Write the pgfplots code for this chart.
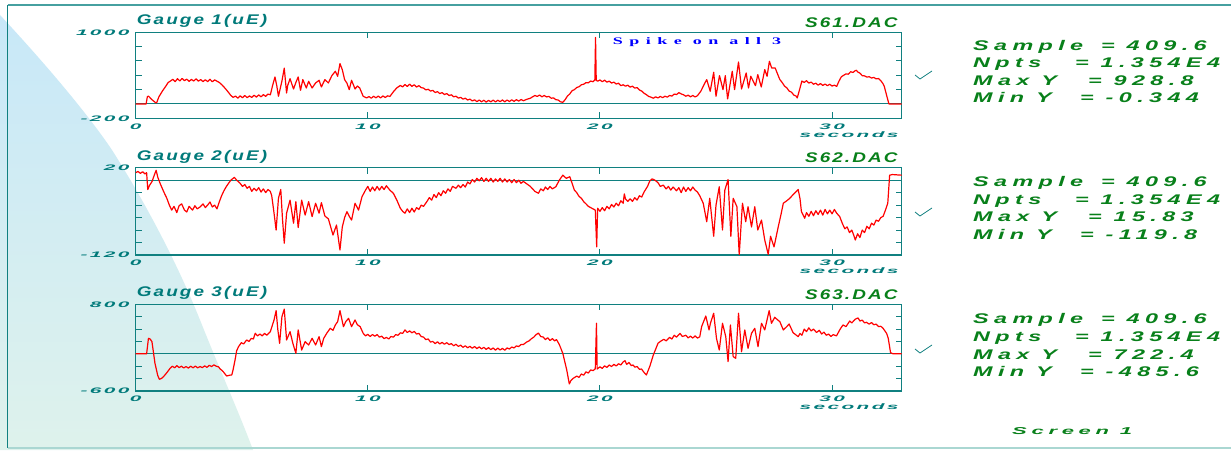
\documentclass[border=0pt]{standalone}
\usepackage{pgfplots}
\pgfplotsset{compat=1.18}
\usepackage{pgfplotstable}
\usepackage{graphicx}
\usepackage{fontspec}
\setmainfont{Liberation Sans}
\newfontfamily\tickfont{Liberation Sans Bold Italic}[FakeStretch=2.6, LetterSpace=30]
\newfontfamily\titlefont{Liberation Sans Bold Italic}[FakeStretch=1.35, LetterSpace=15]
\newfontfamily\infofont{Liberation Sans Bold Italic}[LetterSpace=23]
\newfontfamily\screenfont{Liberation Sans Bold Italic}[FakeStretch=2.2, LetterSpace=47]
\newfontfamily\notefont{Liberation Serif Bold}[LetterSpace=36]

\definecolor{axteal}{RGB}{16,128,128}
\definecolor{txteal}{RGB}{0,122,122}
\definecolor{txgreen}{RGB}{8,128,26}
\definecolor{frametop}{RGB}{70,160,160}
\definecolor{framebot}{RGB}{170,215,210}
\definecolor{bgtop}{RGB}{200,232,248}
\definecolor{bgbot}{RGB}{222,242,236}

% strain records, time in seconds
\pgfplotstableread{
t y
0 0
0.45 0
0.5 100
0.55 110
0.7 60
0.85 20
0.9 15
1.0 100
1.15 180
1.3 250
1.4 300
1.5 320
1.6 345
1.7 312
1.8 352
1.9 322
2.0 356
2.1 326
2.2 346
2.3 316
2.4 342
2.5 320
2.6 350
2.7 318
2.8 340
2.9 312
3.0 338
3.1 312
3.2 344
3.3 310
3.4 336
3.5 318
3.6 300
3.7 272
3.8 238
3.9 200
4.0 160
4.1 118
4.2 92
4.3 110
4.4 82
4.5 114
4.6 86
4.7 118
4.8 88
4.9 112
5.0 92
5.1 122
5.2 96
5.3 126
5.4 100
5.5 130
5.6 106
5.7 138
5.8 128
5.9 260
6.0 377
6.08 250
6.15 107
6.3 320
6.4 500
6.5 153
6.55 260
6.65 353
6.8 209
6.9 300
7.0 377
7.1 190
7.2 340
7.35 223
7.45 316
7.6 223
7.75 293
7.9 330
8.0 237
8.15 340
8.3 293
8.45 395
8.6 456
8.7 386
8.8 563
8.9 479
9.0 340
9.1 290
9.2 200
9.3 330
9.45 209
9.55 250
9.65 223
9.8 107
9.95 84
10.05 104
10.15 80
10.25 108
10.35 86
10.45 110
10.55 84
10.65 112
10.75 90
10.85 114
10.95 105
11.1 170
11.25 225
11.4 258
11.5 238
11.6 272
11.7 244
11.8 276
11.9 246
12.0 268
12.1 236
12.2 256
12.3 228
12.4 222
12.5 196
12.6 205
12.7 180
12.8 190
12.9 160
13.0 172
13.1 145
13.2 158
13.3 132
13.4 145
13.5 118
13.6 128
13.7 100
13.8 108
13.9 82
14.0 92
14.1 68
14.2 80
14.3 55
14.4 68
14.5 42
14.6 58
14.7 32
14.8 55
14.9 30
15.0 52
15.1 26
15.2 50
15.3 30
15.4 54
15.5 28
15.6 52
15.7 32
15.8 56
15.9 30
16.0 55
16.1 34
16.2 58
16.3 36
16.4 60
16.5 40
16.6 62
16.7 45
16.85 65
17.0 80
17.1 100
17.2 118
17.3 105
17.4 125
17.5 100
17.6 118
17.7 98
17.8 106
17.9 80
18.0 85
18.1 60
18.2 55
18.3 30
18.4 23
18.5 60
18.6 110
18.7 140
18.8 185
18.9 200
19.0 230
19.1 240
19.2 268
19.3 275
19.4 298
19.5 295
19.6 320
19.7 310
19.78 335
19.81 928.8
19.84 330
19.9 318
20.0 335
20.1 310
20.2 332
20.3 305
20.4 318
20.5 292
20.6 305
20.7 278
20.8 290
20.9 255
21.0 268
21.1 248
21.2 262
21.3 235
21.4 248
21.5 222
21.6 228
21.7 195
21.8 180
21.9 150
22.0 130
22.1 105
22.2 95
22.3 80
22.4 100
22.5 84
22.6 105
22.7 88
22.8 108
22.9 95
23.0 118
23.1 110
23.2 138
23.3 132
23.4 158
23.5 140
23.6 128
23.7 108
23.8 122
23.9 100
24.0 118
24.1 98
24.2 115
24.35 180
24.5 280
24.6 340
24.75 177
24.9 442
25.0 107
25.15 395
25.3 200
25.4 395
25.5 70
25.7 456
25.8 200
25.97 586
26.1 209
26.3 432
26.4 223
26.5 386
26.7 256
26.8 409
26.95 237
27.1 479
27.2 386
27.3 595
27.4 502
27.55 502
27.65 420
27.75 340
27.85 300
27.95 250
28.05 225
28.15 180
28.25 165
28.35 125
28.45 110
28.5 84
28.6 200
28.7 320
28.8 300
28.9 325
29.0 292
29.1 305
29.2 275
29.3 290
29.4 262
29.5 285
29.6 258
29.7 278
29.8 255
29.9 275
30.0 250
30.1 262
30.2 246
30.3 320
30.4 380
30.5 400
30.6 420
30.7 415
30.8 450
30.9 440
31.0 465
31.05 470
31.1 448
31.2 430
31.3 395
31.4 392
31.5 375
31.6 380
31.7 362
31.8 370
31.9 350
32.0 355
32.1 325
32.2 280
32.25 246
32.35 120
32.45 0
33 0
}\gaugeone

\pgfplotstableread{
t y
0 12
0.1 14
0.2 11
0.3 13.5
0.4 10
0.47 12
0.52 -15
0.6 -8
0.7 -2.5
0.8 8
0.88 15.8
0.95 5
1.05 -5
1.2 -18
1.34 -29
1.45 -40
1.55 -48
1.65 -42
1.77 -52
1.87 -41
1.98 -38
2.1 -48
2.2 -51
2.3 -42
2.45 -48
2.55 -41
2.65 -46
2.77 -43
2.9 -38
3.0 -44
3.1 -40
3.2 -35
3.3 -43
3.4 -40
3.5 -46
3.6 -35
3.7 -25
3.8 -17
3.9 -10.5
4.0 -5
4.1 0
4.25 4.5
4.35 0
4.5 -5
4.6 -10
4.7 -7
4.8 -13
4.9 -10
5.0 -18
5.1 -13
5.2 -17
5.3 -12
5.4 -19
5.5 -14
5.6 -20
5.7 -15
5.8 -18
5.86 -25
5.95 -50
6.05 -80
6.15 -29
6.25 -15
6.32 -60
6.4 -101
6.5 -53
6.65 -32
6.8 -69
6.9 -34.5
7.0 -76
7.15 -32
7.3 -56
7.45 -34.5
7.6 -58.5
7.75 -37
7.9 -53
8.0 -36
8.15 -57.5
8.3 -62
8.4 -75
8.5 -88
8.65 -72
8.8 -112
8.9 -75
9.0 -60
9.1 -50.5
9.2 -58
9.3 -64
9.45 -37
9.6 -48
9.75 -26.5
9.9 -16
10.0 -10
10.1 -18
10.2 -11
10.3 -17
10.4 -10
10.5 -16
10.6 -10
10.7 -15
10.8 -9
10.95 -16
11.1 -21
11.25 -32
11.4 -45
11.5 -50
11.6 -53
11.7 -46
11.8 -52
11.9 -45
12.0 -51
12.1 -44
12.2 -47
12.3 -40
12.4 -42
12.55 -34
12.65 -28
12.75 -32
12.85 -23
12.95 -28
13.05 -20
13.15 -25
13.25 -17
13.35 -21
13.45 -14
13.55 -18
13.65 -10
13.8 -13
13.9 -8
14.0 -12
14.1 -7
14.2 -11
14.3 -3
14.4 -6
14.5 1
14.6 -3
14.7 3
14.8 -1
14.9 4
15.0 -2
15.1 3
15.2 -2
15.3 3
15.4 -3
15.5 2
15.6 -2
15.7 3
15.8 -3
15.9 2
16.0 -3
16.1 1
16.2 -4
16.3 1
16.4 -4
16.5 0
16.6 -5
16.7 -2
16.85 -6
17.0 -10
17.2 -18
17.35 -21
17.45 -14
17.56 -17
17.65 -11
17.75 -15
17.85 -10
17.95 -14
18.1 -10.5
18.25 0
18.4 8
18.55 3
18.7 5.5
18.8 -5
18.9 -16
19.0 -20
19.1 -26
19.2 -29
19.3 -34.5
19.4 -38
19.5 -42
19.65 -45
19.8 -48
19.86 -107
19.9 -45
20.0 -50
20.1 -44
20.2 -49
20.3 -42
20.4 -46
20.5 -39
20.6 -43
20.7 -37
20.8 -41
20.9 -33
21.0 -37
21.05 -22
21.1 -30
21.2 -34
21.3 -30
21.4 -34
21.5 -28
21.6 -32
21.7 -25
21.8 -27
21.9 -19
22.05 -10
22.15 -1
22.25 2
22.37 0
22.5 -4
22.6 -10
22.73 -8
22.85 -14
22.95 -10
23.05 -16
23.15 -11
23.3 -17
23.4 -12
23.5 -20
23.6 -11
23.7 -18
23.8 -12
23.9 -17
24.0 -11
24.1 -16
24.2 -19
24.3 -25
24.45 -37
24.6 -66.6
24.73 -29
24.9 -90
25.0 -40
25.14 -10.5
25.28 -80
25.38 -16
25.52 1
25.64 -90
25.74 -29
25.9 -42.5
26.0 -119.8
26.14 -37
26.28 -66.6
26.38 -42.5
26.53 -75
26.67 -42.5
26.8 -80
26.96 -64
27.1 -96
27.25 -119
27.35 -90
27.5 -107
27.68 -75
27.8 -55
27.9 -37
28.05 -33
28.18 -29
28.35 -22
28.54 -15
28.62 -30
28.68 -50.5
28.82 -61
28.9 -52
29.0 -58
29.1 -50
29.2 -57
29.3 -49
29.4 -55
29.5 -48
29.6 -56
29.7 -47
29.8 -54
29.9 -48
30.0 -54
30.1 -47
30.2 -53
30.33 -58.5
30.45 -70
30.55 -78
30.65 -75
30.75 -84
30.85 -80
30.95 -90
31.0 -96
31.1 -86
31.2 -92
31.3 -80
31.4 -84
31.5 -74
31.6 -78
31.7 -69
31.8 -72
31.9 -64
32.0 -66
32.1 -60
32.2 -58
32.3 -48
32.4 -37
32.48 8
32.6 9
33 8
}\gaugetwo

\pgfplotstableread{
t y
0 0
0.47 0
0.55 251
0.62 240
0.7 197
0.83 -153
0.95 -350
1.02 -411
1.1 -400
1.2 -368
1.35 -300
1.48 -234
1.58 -200
1.68 -225
1.77 -190
1.87 -222
1.97 -200
2.07 -228
2.17 -205
2.27 -230
2.37 -200
2.47 -225
2.57 -198
2.67 -226
2.77 -205
2.87 -222
2.97 -195
3.07 -218
3.17 -185
3.27 -205
3.37 -178
3.47 -200
3.57 -210
3.63 -240
3.75 -280
3.92 -358
4.05 -345
4.14 -341
4.2 -250
4.28 -99
4.35 50
4.43 116
4.55 180
4.65 160
4.78 224
4.88 200
4.98 250
5.07 240
5.15 332
5.25 290
5.35 320
5.45 290
5.55 330
5.65 300
5.8 358
5.96 547
6.05 698
6.12 400
6.2 170
6.3 601
6.4 722.4
6.5 224
6.65 358
6.77 170
6.9 9
7.0 386
7.15 62
7.3 197
7.45 143
7.6 251
7.75 143
7.9 278
8.0 116
8.1 250
8.23 332
8.38 412
8.5 380
8.6 466
8.7 520
8.8 698
8.95 439
9.05 520
9.17 574
9.3 439
9.45 547
9.55 470
9.67 439
9.8 332
9.9 290
10.0 315
10.1 280
10.2 312
10.3 285
10.4 310
10.5 270
10.6 285
10.7 245
10.8 265
10.9 240
11.0 280
11.1 270
11.2 310
11.3 300
11.4 340
11.5 330
11.6 386
11.7 345
11.8 370
11.9 340
12.0 362
12.1 320
12.2 330
12.3 280
12.4 270
12.5 230
12.6 240
12.7 190
12.8 200
12.9 165
13.0 195
13.1 160
13.2 185
13.3 155
13.4 180
13.5 150
13.6 165
13.7 130
13.8 155
13.9 120
14.0 140
14.1 105
14.2 130
14.3 98
14.4 122
14.5 90
14.6 118
14.7 85
14.8 112
14.9 80
15.0 105
15.1 72
15.2 100
15.3 68
15.4 95
15.5 60
15.6 92
15.7 62
15.8 88
15.9 58
16.0 95
16.1 78
16.2 110
16.3 95
16.4 128
16.5 118
16.6 150
16.7 150
16.84 190
16.95 210
17.05 245
17.15 270
17.25 310
17.35 335
17.45 280
17.56 270
17.65 230
17.75 260
17.85 215
17.95 245
18.05 210
18.13 230
18.25 150
18.4 9
18.57 -261
18.68 -485.6
18.75 -430
18.85 -395
19.0 -360
19.1 -380
19.2 -325
19.3 -345
19.4 -290
19.5 -310
19.6 -260
19.71 -270
19.8 -240
19.85 493
19.88 -245
20.0 -210
20.1 -235
20.2 -195
20.3 -220
20.4 -180
20.5 -205
20.6 -170
20.7 -195
20.8 -160
20.9 -180
21.0 -130
21.08 -110
21.15 -170
21.25 -140
21.35 -190
21.43 -180
21.5 -215
21.6 -205
21.7 -250
21.79 -245
21.9 -300
22.0 -341
22.15 -200
22.3 -18
22.5 170
22.6 200
22.75 235
22.85 210
23.0 265
23.1 240
23.2 300
23.3 270
23.45 330
23.55 280
23.7 300
23.8 258
23.9 285
24.0 255
24.1 290
24.2 255
24.3 275
24.38 439
24.56 611
24.7 386
24.76 493
24.9 655
25.02 251
25.14 62
25.28 493
25.42 278
25.52 -126
25.62 466
25.74 -45
25.85 -72
25.97 655
26.1 35
26.24 386
26.38 89
26.53 332
26.67 412
26.81 116
26.96 493
27.1 386
27.29 698
27.39 493
27.53 590
27.65 550
27.75 520
27.9 386
28.05 440
28.15 482
28.32 342
28.54 278
28.62 330
28.7 300
28.8 400
28.9 360
29.0 420
29.1 370
29.2 400
29.33 345
29.45 380
29.55 320
29.65 350
29.75 300
29.85 320
29.95 280
30.05 310
30.19 290
30.35 400
30.47 466
30.6 440
30.76 530
30.85 500
31.0 560
31.12 580
31.2 530
31.3 545
31.4 500
31.48 510
31.6 480
31.7 505
31.8 470
31.9 480
32.0 440
32.1 445
32.2 412
32.35 330
32.42 251
32.52 19
32.63 0
33 0
}\gaugethree

\pgfplotsset{
  gaugeaxis/.style={
    anchor=south west,
    scale only axis,
    clip mode=individual,
    width=766pt,
    xmin=0, xmax=33,
    axis line style={draw=axteal, line width=1.3pt},
    tick style={draw=axteal, line width=1pt},
    tick align=inside,
    major tick length=6pt,
    xtick={0,10,20,30},
    xticklabels={0,10,20,30},
    xticklabel style={anchor=north, inner sep=0pt, yshift=-5pt,
      font=\tickfont\fontsize{8}{8}\selectfont, text=txteal},
    yticklabel style={anchor=east, inner sep=0pt, xshift=-6pt,
      font=\tickfont\fontsize{8}{8}\selectfont, text=txteal},
  },
  trace/.style={red, line width=1.2pt, line join=round},
  zeroline/.style={axteal, line width=1pt},
}

\newcommand{\titletext}[1]{{\titlefont\fontsize{14}{14}\selectfont #1}}
\newcommand{\infotext}[1]{\scalebox{1.67}[1]{\infofont\fontsize{14}{14}\selectfont #1}}

\begin{document}
\begin{tikzpicture}[x=1pt, y=1pt]
  % page background and the pale blue sweep on the left
  \fill[white] (0,0) rectangle (1231,450);
  \shade[top color=bgtop, bottom color=bgbot]
    (0,435) .. controls (40,392) and (85,340) .. (112,300)
    .. controls (150,240) and (180,180) .. (200,130)
    .. controls (222,75) and (240,35) .. (253,0)
    -- (0,0) -- cycle;
  % frame
  \draw[frametop, line width=1.5pt] (7.5,445) -- (1231,445);
  \draw[axteal, line width=1.5pt] (7.5,445) -- (7.5,2);
  \draw[framebot, line width=1.5pt] (7.5,2) -- (1231,2);

  % ---------- Gauge 1 ----------
  \begin{axis}[gaugeaxis, at={(135.7pt,331.7pt)}, height=86pt,
      ymin=-200, ymax=1000,
      ytick={-200,0,200,400,600,800,1000},
      yticklabels={-200,,,,,,1000}]
    \addplot[zeroline] coordinates {(0,0) (33,0)};
    \addplot[trace] table[x=t, y=y] {\gaugeone};
    \node[anchor=south west, inner sep=0pt, text=txteal] at (rel axis cs:0,1) [xshift=1pt, yshift=4.5pt] {\titletext{Gauge 1(uE)}};
    \node[anchor=south east, inner sep=0pt, text=txgreen] at (rel axis cs:1,1) [xshift=-4pt, yshift=4.5pt] {\titletext{S61.DAC}};
    \node[anchor=north east, inner sep=0pt, text=txteal] at (rel axis cs:1,0) [xshift=-3pt, yshift=-13pt] {\tickfont\fontsize{8}{8}\selectfont seconds};
    \node[anchor=base west, inner sep=0pt, text=blue] at (rel axis cs:0,1) [xshift=477pt, yshift=-12pt] {\scalebox{1.8}[1]{\notefont\fontsize{10}{10}\selectfont Spike on all 3}};
  \end{axis}

  % ---------- Gauge 2 ----------
  \begin{axis}[gaugeaxis, at={(135.7pt,195pt)}, height=87.3pt,
      ymin=-120, ymax=20,
      ytick={-120,-100,-80,-60,-40,-20,0,20},
      yticklabels={-120,,,,,,,20}]
    \addplot[zeroline] coordinates {(0,0) (33,0)};
    \addplot[trace] table[x=t, y=y] {\gaugetwo};
    \node[anchor=south west, inner sep=0pt, text=txteal] at (rel axis cs:0,1) [xshift=1pt, yshift=4.5pt] {\titletext{Gauge 2(uE)}};
    \node[anchor=south east, inner sep=0pt, text=txgreen] at (rel axis cs:1,1) [xshift=-4pt, yshift=4.5pt] {\titletext{S62.DAC}};
    \node[anchor=north east, inner sep=0pt, text=txteal] at (rel axis cs:1,0) [xshift=-3pt, yshift=-13pt] {\tickfont\fontsize{8}{8}\selectfont seconds};
  \end{axis}

  % ---------- Gauge 3 ----------
  \begin{axis}[gaugeaxis, at={(135.7pt,59pt)}, height=86.7pt,
      ymin=-600, ymax=800,
      ytick={-600,-400,-200,0,200,400,600,800},
      yticklabels={-600,,,,,,,800}]
    \addplot[zeroline] coordinates {(0,0) (33,0)};
    \addplot[trace] table[x=t, y=y] {\gaugethree};
    \node[anchor=south west, inner sep=0pt, text=txteal] at (rel axis cs:0,1) [xshift=1pt, yshift=4.5pt] {\titletext{Gauge 3(uE)}};
    \node[anchor=south east, inner sep=0pt, text=txgreen] at (rel axis cs:1,1) [xshift=-4pt, yshift=4.5pt] {\titletext{S63.DAC}};
    \node[anchor=north east, inner sep=0pt, text=txteal] at (rel axis cs:1,0) [xshift=-3pt, yshift=-13pt] {\tickfont\fontsize{8}{8}\selectfont seconds};
  \end{axis}

  % check marks beside each record
  \foreach \yy in {375, 238, 101} {
    \draw[axteal, line width=0.8pt] (915,\yy) -- (920,\yy-4) -- (932,\yy+4);
  }

  % record statistics
  \foreach \base/\maxv/\minv in {399.5/928.8/-0.344, 263/15.83/-119.8, 126/722.4/-485.6} {
    \node[anchor=base west, inner sep=0pt, text=txgreen] at (973,\base) {\infotext{Sample}};
    \node[anchor=base west, inner sep=0pt, text=txgreen] at (1101,\base) {\infotext{= 409.6}};
    \node[anchor=base west, inner sep=0pt, text=txgreen] at (973,\base-17.5) {\infotext{Npts}};
    \node[anchor=base west, inner sep=0pt, text=txgreen] at (1075,\base-17.5) {\infotext{= 1.354E4}};
    \node[anchor=base west, inner sep=0pt, text=txgreen] at (973,\base-35) {\infotext{Max Y}};
    \node[anchor=base west, inner sep=0pt, text=txgreen] at (1088,\base-35) {\infotext{= \maxv}};
    \node[anchor=base west, inner sep=0pt, text=txgreen] at (973,\base-52.5) {\infotext{Min Y}};
    \node[anchor=base west, inner sep=0pt, text=txgreen] at (1080,\base-52.5) {\infotext{= \minv}};
  }

  \node[anchor=base west, inner sep=0pt, text=txgreen] at (1012,16) {\screenfont\fontsize{10}{10}\selectfont Screen 1};

  \pgfresetboundingbox
  \path[use as bounding box] (0,0) rectangle (1231,450);
\end{tikzpicture}
\end{document}
